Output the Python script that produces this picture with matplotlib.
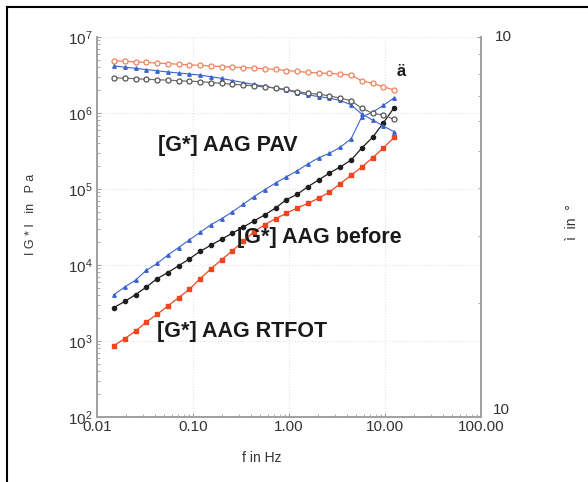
import numpy as np
import matplotlib.pyplot as plt
from matplotlib.lines import Line2D
from matplotlib.ticker import FixedLocator, LogLocator, NullFormatter
from matplotlib.transforms import blended_transform_factory

plt.rcParams['font.family'] = ['Liberation Sans', 'DejaVu Sans']
plt.rcParams['mathtext.default'] = 'regular'

# frecuencias (Hz)
f = [0.015, 0.0194, 0.0252, 0.0326, 0.0422, 0.0546, 0.0708, 0.0916, 0.1187,
     0.1537, 0.199, 0.2577, 0.3337, 0.4322, 0.5597, 0.7248, 0.9386, 1.2155,
     1.574, 2.038, 2.64, 3.418, 4.427, 5.733, 7.424, 9.614, 12.45]

# |G*| en Pa
g_rtfot = [871, 1072, 1349, 1778, 2239, 2884, 3715, 4786, 6607, 8913, 11750,
           15490, 20420, 27540, 33880, 40740, 47860, 56230, 64570, 75860,
           91200, 117500, 151400, 195000, 257000, 346700, 478600]
g_before = [2754, 3311, 4074, 5129, 6607, 7943, 9772, 12020, 15140, 18200,
            21880, 26300, 31620, 38020, 45710, 56230, 72440, 85110, 107200,
            131800, 162200, 195000, 239900, 346700, 478600, 741300, 1175000]
g_pav = [4074, 5129, 6310, 8511, 10470, 13490, 16980, 21380, 26920, 33880,
         40740, 50120, 63100, 79430, 97720, 120200, 144500, 173800, 213800,
         257000, 295100, 354800, 457100, 891300, 1023000, 1259000, 1585000]

# angulo de fase en grados
d_rtfot = [86.6, 86.3, 86.0, 85.7, 85.4, 85.1, 84.8, 84.5, 84.2, 83.9, 83.6,
           83.4, 83.1, 82.8, 82.5, 82.2, 81.6, 81.2, 80.7, 80.4, 80.2, 79.9,
           79.4, 76.7, 75.5, 74.0, 72.5]
d_before = [78.1, 77.9, 77.7, 77.4, 77.2, 77.0, 76.7, 76.5, 76.3, 75.9, 75.5,
            75.1, 74.8, 74.3, 73.9, 73.4, 72.8, 71.8, 71.1, 70.7, 70.0, 69.0,
            68.0, 64.9, 63.0, 62.3, 60.7]
d_pav = [83.9, 83.3, 82.7, 82.1, 81.5, 80.9, 80.4, 79.9, 79.4, 78.6, 77.8,
         76.8, 75.9, 75.0, 74.2, 73.3, 72.5, 71.4, 70.4, 69.7, 69.0, 68.1,
         66.3, 62.7, 60.5, 58.3, 56.3]

xticks = [0.01, 0.1, 1, 10, 100]
xlabels = ['0.01', '0.10', '1.00', '10.00', '100.00']

rojo = '#f0461e'
naranjo = '#f0835a'
azul = '#3c64cc'
negro = '#1e1e1e'
gris = '#707070'
eje = '#a0a0a0'

fig = plt.figure(figsize=(5.88, 4.82), dpi=100)
ax = fig.add_axes([97/588, 1-417/482, 384/588, 380/482])
ax2 = ax.twinx()

ax.plot(f, g_rtfot, '-s', color=rojo, ms=2.6, lw=0.9, mec=rojo)
ax.plot(f, g_before, '-o', color=negro, ms=3, lw=0.9)
ax.plot(f, g_pav, '-^', color=azul, ms=2.5, lw=0.8)

ax2.plot(f, d_rtfot, '-o', color=naranjo, ms=3.6, lw=0.9, mfc='white',
         mec=naranjo, mew=0.9)
ax2.plot(f, d_pav, '-^', color=azul, ms=2.5, lw=0.8, mfc=azul)
ax2.plot(f, d_before, '-o', color=gris, ms=3.6, lw=0.9, mfc='white',
         mec='#555555', mew=0.9)

ax.set_xscale('log')
ax.set_yscale('log')
ax.set_xlim(0.01, 100)
ax.set_ylim(1e2, 1e7)
ax2.set_yscale('log')
ax2.set_ylim(10, 100)

ax.set_xticks(xticks)
ax.set_xticklabels(xlabels)
ax.xaxis.set_minor_locator(LogLocator(base=10, subs=np.arange(2, 10)))
ax.xaxis.set_minor_formatter(NullFormatter())
ax.yaxis.set_minor_locator(LogLocator(base=10, subs=np.arange(2, 10)))
ax.yaxis.set_minor_formatter(NullFormatter())
ax.set_yticks([1e2, 1e3, 1e4, 1e5, 1e6, 1e7])

ax2.yaxis.set_major_locator(FixedLocator([10, 100]))
ax2.yaxis.set_major_formatter(NullFormatter())
ax2.yaxis.set_minor_locator(LogLocator(base=10, subs=np.arange(2, 10)))
ax2.yaxis.set_minor_formatter(NullFormatter())

# etiquetas del eje derecho (la de abajo va montada sobre 100.00)
tr = blended_transform_factory(ax2.transAxes, ax2.transData)
ax2.text(1.035, 100, '10', transform=tr, ha='left', va='center',
         fontsize=11, color='#333333')
ax2.text(1.03, 10, '10', transform=tr, ha='left', va='bottom',
         fontsize=11, color='#333333')

ax.grid(True, which='major', color='#e4e4e4', ls=':', lw=0.8)

for a in (ax, ax2):
    a.spines['top'].set_visible(False)
    for s in ('left', 'right', 'bottom'):
        a.spines[s].set_color(eje)
        a.spines[s].set_linewidth(1.2)
    a.tick_params(which='both', colors=eje, labelcolor='#333333', labelsize=11)
    a.tick_params(which='major', length=3, direction='in')
    a.tick_params(which='minor', length=2, direction='in')
ax.tick_params(axis='x', pad=2)

fig.text(262/588, 1-458/482, 'f in Hz', ha='center', va='center',
         fontsize=10, color='#333333')
fig.text(31/588, 1-214/482, 'I G * I   in   P a', rotation=90, ha='center',
         va='center', fontsize=9, color='#333333')
fig.text(572/588, 1-222/482, 'ì  in  °', rotation=90, ha='center',
         va='center', fontsize=10, color='#333333')

fig.text(158/588, 1-145/482, '[G*] AAG PAV', ha='left', va='center',
         fontsize=15.5, fontweight='bold', color='#1a1a1a')
fig.text(237/588, 1-237/482, '[G*] AAG before', ha='left', va='center',
         fontsize=15.5, fontweight='bold', color='#1a1a1a')
fig.text(157/588, 1-332/482, '[G*] AAG RTFOT', ha='left', va='center',
         fontsize=15.5, fontweight='bold', color='#1a1a1a')
fig.text(397/588, 1-72/482, 'ä', ha='left', va='center',
         fontsize=12, fontweight='bold', color='#1a1a1a')

# marco
fig.add_artist(Line2D([7/588, 7/588], [0, 1-7/482], color='black', lw=1.5))
fig.add_artist(Line2D([7/588, 1], [1-7/482, 1-7/482], color='black', lw=1.5))

plt.savefig('out.png', dpi=100)
